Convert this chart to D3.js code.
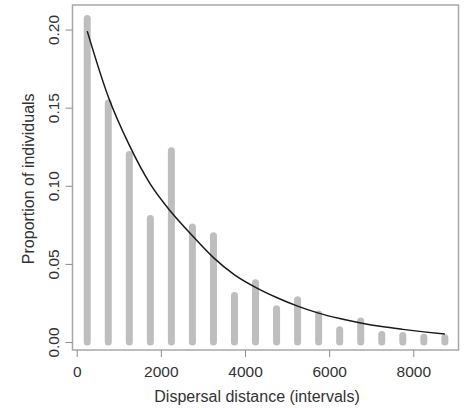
<!DOCTYPE html>
<html>
<head>
<meta charset="utf-8">
<script src="https://cdn.jsdelivr.net/npm/d3@7"></script>
<style>
  body { margin: 0; background: #fff; }
  text { font-family: "Liberation Sans", Arial, sans-serif; fill: #333; }
</style>
</head>
<body>
<div id="chart-area"></div>
<script>
var margin = { left: 72.5, right: 5.5, top: 5, bottom: 58 };
var width = 464 - margin.left - margin.right;
var height = 408 - margin.top - margin.bottom;

// observed proportions per distance interval
var distances = [250, 750, 1250, 1750, 2250, 2750, 3250, 3750, 4250,
                 4750, 5250, 5750, 6250, 6750, 7250, 7750, 8250, 8750];
var proportions = [0.207, 0.153, 0.120, 0.079, 0.1225, 0.0737, 0.068, 0.0298, 0.038,
                   0.0213, 0.0271, 0.018, 0.0078, 0.0134, 0.0048, 0.0042, 0.0031, 0.0027];
// fitted curve
var fitted = [0.199, 0.157, 0.126, 0.101, 0.083, 0.068, 0.054, 0.043, 0.035,
              0.0285, 0.023, 0.0185, 0.015, 0.0122, 0.0099, 0.0081, 0.0065, 0.0051];

var xTicks = [0, 2000, 4000, 6000, 8000];
var yTicks = [0, 0.05, 0.10, 0.15, 0.20];

var x = d3.scaleLinear()
  .domain([-100, 9074])
  .range([0, width]);

var y = d3.scaleLinear()
  .domain([-0.0051, 0.2157])
  .range([height, 0]);

var svg = d3.select("#chart-area")
  .append("svg")
  .attr("width", 464)
  .attr("height", 408);

var g = svg.append("g")
  .attr("transform", "translate(" + margin.left + "," + margin.top + ")");

// Bars (R type="h" style, thick round-capped lines)
g.selectAll("line.bar")
  .data(distances)
  .enter()
  .append("line")
  .attr("class", "bar")
  .attr("x1", function(d) { return x(d); })
  .attr("x2", function(d) { return x(d); })
  .attr("y1", y(0))
  .attr("y2", function(d, i) { return y(proportions[i]); })
  .attr("stroke", "#bebebe")
  .attr("stroke-width", 7)
  .attr("stroke-linecap", "round");

// Fitted curve
var line = d3.line()
  .x(function(d, i) { return x(distances[i]); })
  .y(function(d) { return y(d); })
  .curve(d3.curveMonotoneX);

g.append("path")
  .datum(fitted)
  .attr("d", line)
  .attr("fill", "none")
  .attr("stroke", "#1a1a1a")
  .attr("stroke-width", 1.5);

// Box
g.append("rect")
  .attr("x", 0)
  .attr("y", 0)
  .attr("width", width)
  .attr("height", height)
  .attr("fill", "none")
  .attr("stroke", "#a8a8a8")
  .attr("stroke-width", 1.5);

// Axes
var xAxis = g.append("g")
  .attr("transform", "translate(0," + height + ")")
  .call(d3.axisBottom(x).tickValues(xTicks).tickSize(7).tickPadding(4).tickFormat(d3.format("d")));

var yAxis = g.append("g")
  .call(d3.axisLeft(y).tickValues(yTicks).tickSize(7).tickFormat(d3.format(".2f")));

[xAxis, yAxis].forEach(function(ax) {
  ax.select(".domain").remove();
  ax.selectAll(".tick line").attr("stroke", "#8c8c8c");
  ax.selectAll(".tick text")
    .attr("font-size", "15.5px")
    .attr("font-family", "'Liberation Sans', Arial, sans-serif")
    .attr("fill", "#333");
});

xAxis.selectAll(".tick text")
  .attr("y", 0)
  .attr("dy", 0)
  .attr("transform", "translate(0,27)");

yAxis.selectAll(".tick text")
  .attr("text-anchor", "middle")
  .attr("x", 0)
  .attr("dy", 0)
  .attr("y", -13.5)
  .attr("transform", "rotate(-90)");

// X label
g.append("text")
  .attr("x", (x(0) + x(8000)) / 2 + 12)
  .attr("y", height + 51.5)
  .attr("text-anchor", "middle")
  .attr("font-size", "16px")
  .text("Dispersal distance (intervals)");

// Y label
g.append("text")
  .attr("transform", "rotate(-90)")
  .attr("x", -(y(0.1) + 0) + 7)
  .attr("y", -39)
  .attr("text-anchor", "middle")
  .attr("font-size", "16px")
  .text("Proportion of individuals");
</script>
</body>
</html>
